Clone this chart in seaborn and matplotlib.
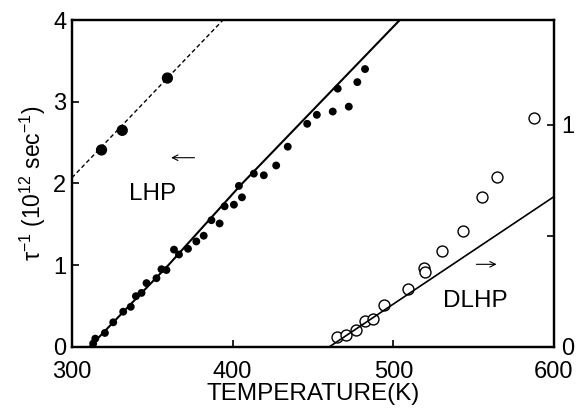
import pandas as pd
import seaborn as sns
import matplotlib.pyplot as plt

# LHP, small dots (left axis)
lhp_T = [313.2, 314.5, 320.5, 325.7, 331.9, 336.6, 339.8, 343.3, 346.4, 352.6, 355.7,
         358.8, 363.5, 366.6, 372.2, 377.4, 382.0, 386.8, 391.9, 395.0, 400.8, 403.9,
         405.8, 413.2, 419.4, 427.1, 434.3, 446.4, 452.4, 462.3, 465.4, 472.3, 477.6, 482.4]
lhp_rate = [0.04, 0.10, 0.17, 0.30, 0.43, 0.49, 0.62, 0.66, 0.78, 0.84, 0.95,
            0.94, 1.19, 1.13, 1.20, 1.29, 1.36, 1.55, 1.51, 1.72, 1.74, 1.97,
            1.83, 2.12, 2.10, 2.22, 2.45, 2.73, 2.84, 2.88, 3.16, 2.94, 3.24, 3.40]
lhp_fit_T = [311, 360, 405, 504]
lhp_fit_rate = [0.0, 1.0, 1.98, 4.0]

# large dots with dashed line (left axis)
big_T = [318.4, 331.3, 359.4]
big_rate = [2.41, 2.65, 3.29]
dash_T = [300, 394]
dash_rate = [2.07, 4.0]

# DLHP, open circles (right axis)
dlhp_T = [465.2, 470.6, 476.8, 482.6, 487.6, 494.4, 509.3, 519.3, 519.7, 530.6,
          543.5, 555.5, 564.8, 587.6]
dlhp_rate = [0.044, 0.054, 0.077, 0.118, 0.126, 0.189, 0.26, 0.354, 0.339, 0.43,
             0.52, 0.677, 0.767, 1.03]
dlhp_fit_T = [460.2, 600]
dlhp_fit_rate = [0.0, 0.677]

sns.set_style("ticks")
plt.rcParams['font.family'] = ['Liberation Sans', 'DejaVu Sans']
plt.rcParams['mathtext.default'] = 'regular'
for key in ['text.color', 'axes.labelcolor', 'xtick.color', 'ytick.color', 'axes.edgecolor']:
    plt.rcParams[key] = 'black'

fig = plt.figure(figsize=(5.85, 4.09), dpi=100)
ax = fig.add_axes([0.123, 0.152, 0.824, 0.799])

sns.lineplot(x=lhp_fit_T, y=lhp_fit_rate, ax=ax, color='black', lw=1.5,
             sort=False, estimator=None)
sns.lineplot(x=dash_T, y=dash_rate, ax=ax, color='black', lw=1.0,
             sort=False, estimator=None, linestyle=(0, (3, 2)))
sns.scatterplot(x=lhp_T, y=lhp_rate, ax=ax, color='black', s=32, edgecolor='none')
sns.scatterplot(x=big_T, y=big_rate, ax=ax, color='black', s=66, edgecolor='none')

ax.set_xlim(300, 600)
ax.set_ylim(0, 4)
ax.set_xticks([300, 400, 500, 600])
ax.set_yticks([0, 1, 2, 3, 4])
ax.tick_params(direction='in', length=5, width=1.2, labelsize=17)
ax.tick_params(axis='x', pad=10)
ax.tick_params(axis='y', pad=4)
ax.set_xlabel('TEMPERATURE(K)', fontsize=17.5)
ax.xaxis.set_label_coords(0.5, -0.11)
ax.set_ylabel('τ$^{-1}$ (10$^{12}$ sec$^{-1}$)', fontsize=16.5, labelpad=4)
for sp in ax.spines.values():
    sp.set_linewidth(1.6)
    sp.set_visible(True)

ax.text(350.3, 1.87, 'LHP', fontsize=17.5, ha='center', va='center')
ax.annotate('', xy=(360, 2.315), xytext=(378, 2.315),
            arrowprops=dict(arrowstyle='->', lw=0.8, color='black'))
ax.text(551.2, 0.557, 'DLHP', fontsize=17.5, ha='center', va='center')

ax2 = ax.twinx()
sns.lineplot(x=dlhp_fit_T, y=dlhp_fit_rate, ax=ax2, color='black', lw=1.2,
             sort=False, estimator=None)
sns.scatterplot(x=dlhp_T, y=dlhp_rate, ax=ax2, facecolor='white', edgecolor='black',
                linewidth=1.0, s=62, marker='o')
ax2.set_ylim(0, 1.473)
ax2.set_yticks([0, 0.5, 1])
ax2.set_yticklabels(['0', '', '1'])
ax2.tick_params(direction='in', length=5, width=1.2, labelsize=17, pad=5)
ax.annotate('', xy=(566, 1.01), xytext=(550, 1.01),
            arrowprops=dict(arrowstyle='->', lw=0.8, color='black'))
for sp in ax2.spines.values():
    sp.set_linewidth(1.6)

fig.savefig('out.png', dpi=100)
